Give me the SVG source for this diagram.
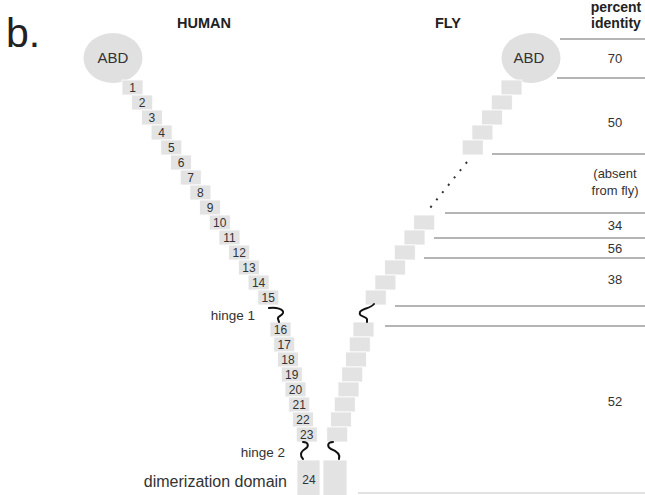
<svg xmlns="http://www.w3.org/2000/svg" width="645" height="495" viewBox="0 0 645 495">
<style>
text{font-family:"Liberation Sans",Arial,Helvetica,sans-serif;fill:#222}
.rep{fill:#e3e3e3;stroke:#fff;stroke-width:0.8}
.num{font-size:12px;text-anchor:middle;fill:#333}
.abd{fill:#e0e0e0}
.abdt{font-size:15px;text-anchor:middle;fill:#333}
.hd{font-size:14px;font-weight:bold}
.pc{font-size:13px;text-anchor:middle;fill:#333}
.lbl{font-size:13.5px;text-anchor:end;fill:#333}
.sep{stroke:#9c9c9c;stroke-width:1.5;fill:none}
.hinge{stroke:#111;stroke-width:2;fill:none;stroke-linecap:round}
</style>
<rect width="645" height="495" fill="#fff"/>
<text x="6" y="47" style="font-size:41px">b.</text>
<text x="204" y="28" class="hd" text-anchor="middle" style="font-size:14.5px">HUMAN</text>
<text x="448" y="28" class="hd" text-anchor="middle" style="font-size:14.5px">FLY</text>
<text x="616" y="12" class="hd" text-anchor="middle">percent</text>
<text x="616" y="28" class="hd" text-anchor="middle">identity</text>

<g id="human-abd"><ellipse class="abd" cx="113" cy="58" rx="29.5" ry="25"/><text class="abdt" x="113" y="63">ABD</text></g>
<g id="fly-abd"><ellipse class="abd" cx="531" cy="58" rx="29.5" ry="25"/><text class="abdt" x="529" y="63">ABD</text></g>

<g id="human-repeats">
<g id="h1"><rect class="rep" x="122" y="80" width="21" height="15"/><text class="num" x="132.5" y="92">1</text></g>
<g id="h2"><rect class="rep" x="131.7" y="95" width="21" height="15"/><text class="num" x="142.2" y="107">2</text></g>
<g id="h3"><rect class="rep" x="141.4" y="110" width="21" height="15"/><text class="num" x="151.9" y="122">3</text></g>
<g id="h4"><rect class="rep" x="151.1" y="125" width="21" height="15"/><text class="num" x="161.6" y="137">4</text></g>
<g id="h5"><rect class="rep" x="160.8" y="140" width="21" height="15"/><text class="num" x="171.3" y="152">5</text></g>
<g id="h6"><rect class="rep" x="170.5" y="155" width="21" height="15"/><text class="num" x="181" y="167">6</text></g>
<g id="h7"><rect class="rep" x="180.2" y="170" width="21" height="15"/><text class="num" x="190.7" y="182">7</text></g>
<g id="h8"><rect class="rep" x="189.9" y="185" width="21" height="15"/><text class="num" x="200.4" y="197">8</text></g>
<g id="h9"><rect class="rep" x="199.6" y="200" width="21" height="15"/><text class="num" x="210.1" y="212">9</text></g>
<g id="h10"><rect class="rep" x="209.3" y="215" width="21" height="15"/><text class="num" x="219.8" y="227">10</text></g>
<g id="h11"><rect class="rep" x="219" y="230" width="21" height="15"/><text class="num" x="229.5" y="242">11</text></g>
<g id="h12"><rect class="rep" x="228.7" y="245" width="21" height="15"/><text class="num" x="239.2" y="257">12</text></g>
<g id="h13"><rect class="rep" x="238.4" y="260" width="21" height="15"/><text class="num" x="248.9" y="272">13</text></g>
<g id="h14"><rect class="rep" x="248.1" y="275" width="21" height="15"/><text class="num" x="258.6" y="287">14</text></g>
<g id="h15"><rect class="rep" x="257.8" y="290" width="21" height="15"/><text class="num" x="268.3" y="302">15</text></g>
<g id="h16"><rect class="rep" x="270" y="322" width="21" height="15"/><text class="num" x="280.5" y="334">16</text></g>
<g id="h17"><rect class="rep" x="273.75" y="337" width="21" height="15"/><text class="num" x="284.25" y="349">17</text></g>
<g id="h18"><rect class="rep" x="277.5" y="352" width="21" height="15"/><text class="num" x="288" y="364">18</text></g>
<g id="h19"><rect class="rep" x="281.25" y="367" width="21" height="15"/><text class="num" x="291.75" y="379">19</text></g>
<g id="h20"><rect class="rep" x="285" y="382" width="21" height="15"/><text class="num" x="295.5" y="394">20</text></g>
<g id="h21"><rect class="rep" x="288.75" y="397" width="21" height="15"/><text class="num" x="299.25" y="409">21</text></g>
<g id="h22"><rect class="rep" x="292.5" y="412" width="21" height="15"/><text class="num" x="303" y="424">22</text></g>
<g id="h23"><rect class="rep" x="296.25" y="427" width="21" height="15"/><text class="num" x="306.75" y="439">23</text></g>
<g id="h24"><rect class="rep" x="297" y="460" width="23" height="40"/><text class="num" x="309" y="484">24</text></g>
</g>

<g id="fly-repeats">
<rect id="f1" class="rep" x="501" y="80" width="21" height="15"/>
<rect id="f2" class="rep" x="491.3" y="95" width="21" height="15"/>
<rect id="f3" class="rep" x="481.6" y="110" width="21" height="15"/>
<rect id="f4" class="rep" x="471.9" y="125" width="21" height="15"/>
<rect id="f5" class="rep" x="462.2" y="140" width="21" height="15"/>
<rect id="f10" class="rep" x="413.7" y="215" width="21" height="15"/>
<rect id="f11" class="rep" x="404" y="230" width="21" height="15"/>
<rect id="f12" class="rep" x="394.3" y="245" width="21" height="15"/>
<rect id="f13" class="rep" x="384.6" y="260" width="21" height="15"/>
<rect id="f14" class="rep" x="374.9" y="275" width="21" height="15"/>
<rect id="f15" class="rep" x="365.2" y="290" width="21" height="15"/>
<rect id="f16" class="rep" x="353" y="322" width="21" height="15"/>
<rect id="f17" class="rep" x="349.25" y="337" width="21" height="15"/>
<rect id="f18" class="rep" x="345.5" y="352" width="21" height="15"/>
<rect id="f19" class="rep" x="341.75" y="367" width="21" height="15"/>
<rect id="f20" class="rep" x="338" y="382" width="21" height="15"/>
<rect id="f21" class="rep" x="334.25" y="397" width="21" height="15"/>
<rect id="f22" class="rep" x="330.5" y="412" width="21" height="15"/>
<rect id="f23" class="rep" x="326.75" y="427" width="21" height="15"/>
<rect id="f24" class="rep" x="323" y="460" width="24" height="40"/>
</g>

<g id="connectors">
<path class="hinge" d="M269,308 C276,307 284,309 283,313 C282,316 277,316 278,319 L279,322"/>
<path class="hinge" d="M374,304 C370,309 362,308 360,312 C358,317 366,316 367,319 L367,322"/>
<path class="hinge" d="M303,442 C309,442 309,447 305,449 C300,452 300,456 303,459"/>
<path class="hinge" d="M333,442 C327,442 327,447 331,449 C339,452 340,456 339,459"/>
<line x1="467" y1="162" x2="426" y2="213" stroke="#333" stroke-width="2" stroke-dasharray="2 7.4"/>
</g>

<g id="labels">
<text class="lbl" x="255" y="320">hinge 1</text>
<text class="lbl" x="285" y="457">hinge 2</text>
<text x="287" y="487" style="font-size:16px;text-anchor:end;fill:#333">dimerization domain</text>
</g>

<g id="identity-table">
<line class="sep" x1="560" y1="39" x2="645" y2="39"/>
<line class="sep" x1="557" y1="78" x2="645" y2="78"/>
<line class="sep" x1="492" y1="154" x2="645" y2="154"/>
<line class="sep" x1="445" y1="213" x2="645" y2="213"/>
<line class="sep" x1="434" y1="238" x2="645" y2="238"/>
<line class="sep" x1="424" y1="258" x2="645" y2="258"/>
<line class="sep" x1="395" y1="306" x2="645" y2="306"/>
<line class="sep" x1="385" y1="326" x2="645" y2="326"/>
<line x1="358" y1="493" x2="645" y2="493" stroke="#d8d8d8" stroke-width="1.5"/>
<text class="pc" x="615" y="63">70</text>
<text class="pc" x="615" y="127">50</text>
<text class="pc" x="615" y="178">(absent</text>
<text class="pc" x="615" y="195">from fly)</text>
<text class="pc" x="615" y="230">34</text>
<text class="pc" x="615" y="253">56</text>
<text class="pc" x="615" y="284">38</text>
<text class="pc" x="615" y="406">52</text>
</g>
</svg>
